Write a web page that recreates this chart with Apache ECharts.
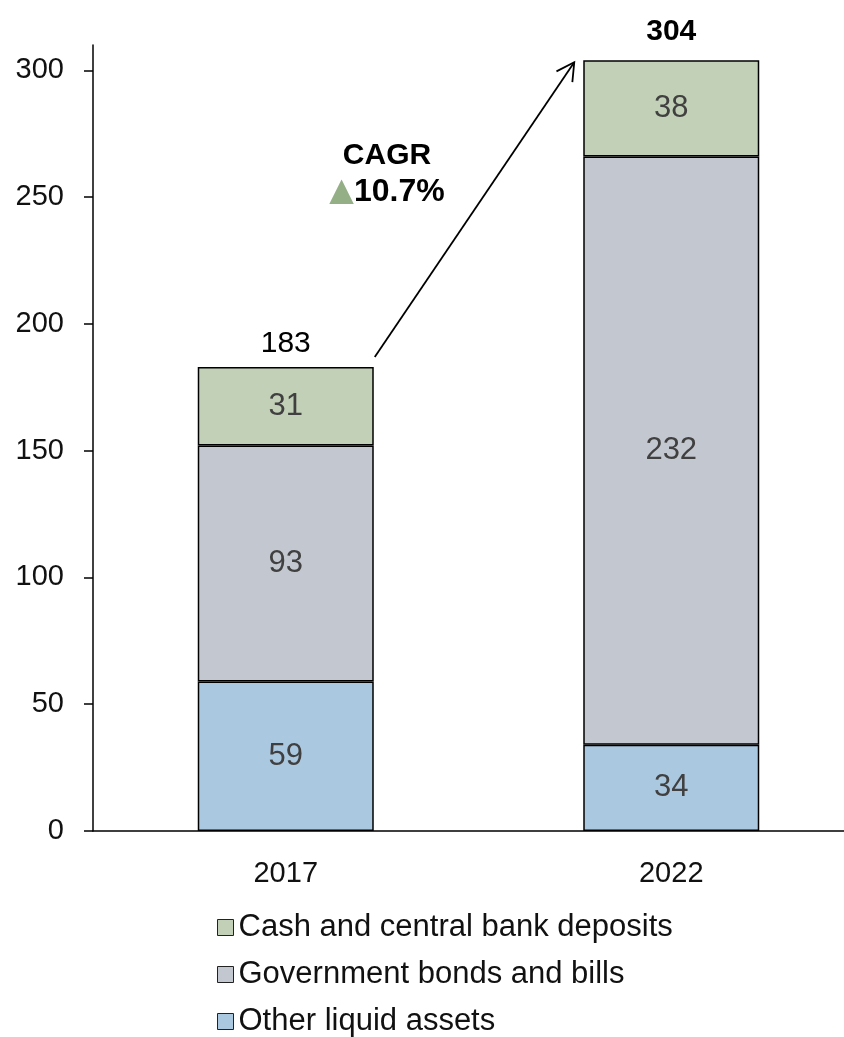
<!DOCTYPE html>
<html>
<head>
<meta charset="utf-8">
<script src="https://cdn.jsdelivr.net/npm/echarts@6/dist/echarts.min.js"></script>
<style>
  html, body { margin: 0; padding: 0; background: #fff; }
  #chart { width: 844px; height: 1037px; }
</style>
</head>
<body>
<div id="chart"></div>
<script>
// Liquid assets by type, two snapshot years
const years = ['2017', '2022'];
const cashDeposits = [31, 38];
const govBonds = [93, 232];
const otherLiquid = [59, 34];
const totals = [183, 304];
const yTicks = [0, 50, 100, 150, 200, 250, 300];
const cagrText = '10.7%';

const FONT = '"Liberation Sans", Arial, sans-serif';
const colors = {
  cash: '#c1d0b6',
  gov: '#c3c7cf',
  other: '#abc8e1',
  arrowUp: '#94ae86'
};
const BAR_W = 176;

const chart = echarts.init(document.getElementById('chart'));

function stackSeries(name, data, color) {
  return {
    name: name,
    type: 'bar',
    stack: 'total',
    data: data,
    barWidth: BAR_W,
    itemStyle: { color: color, borderColor: '#000', borderWidth: 1.5 },
    label: {
      show: true,
      position: 'inside',
      color: '#404040',
      fontSize: 31,
      fontFamily: FONT
    },
    emphasis: { disabled: true }
  };
}

const option = {
  animation: false,
  backgroundColor: '#fff',
  textStyle: { fontFamily: FONT },
  // the plot area runs past the right edge, so the second bar sits near it
  grid: { left: 93, right: -20, top: 45, bottom: 206, outerBoundsMode: 'none' },
  legend: {
    orient: 'vertical',
    left: 212,
    top: 907,
    height: 160,
    itemWidth: 16,
    itemHeight: 16,
    itemGap: 16,
    icon: 'rect',
    data: ['Cash and central bank deposits', 'Government bonds and bills', 'Other liquid assets'],
    textStyle: { fontSize: 31, color: '#111', fontFamily: FONT, padding: [0, 0, 0, 0] },
    itemStyle: { borderColor: '#222', borderWidth: 1 },
    selectedMode: false
  },
  xAxis: {
    type: 'category',
    data: years,
    axisLine: { lineStyle: { color: '#000', width: 1.5 } },
    axisTick: { show: false },
    axisLabel: { color: '#111', fontSize: 29, margin: 28, fontFamily: FONT }
  },
  yAxis: {
    type: 'value',
    min: 0,
    max: 310,
    interval: 50,
    splitLine: { show: false },
    axisLine: { show: true, lineStyle: { color: '#000', width: 1.5 } },
    axisTick: { show: true, length: 9, lineStyle: { color: '#000', width: 1.5 }, customValues: yTicks },
    axisLabel: { color: '#111', fontSize: 29, margin: 29, fontFamily: FONT, customValues: yTicks }
  },
  series: [
    stackSeries('Other liquid assets', otherLiquid, colors.other),
    stackSeries('Government bonds and bills', govBonds, colors.gov),
    stackSeries('Cash and central bank deposits', cashDeposits, colors.cash),
    {
      name: 'Total',
      type: 'bar',
      barGap: '-100%',
      barWidth: BAR_W,
      z: 0,
      silent: true,
      itemStyle: { color: 'rgba(0,0,0,0)' },
      data: totals.map((v, i) => ({
        value: v,
        label: i === totals.length - 1 ? { fontWeight: 'bold', distance: 13 } : { distance: 8 }
      })),
      label: {
        show: true,
        position: 'top',
        color: '#000',
        fontSize: 30,
        fontFamily: FONT
      }
    }
  ]
};

chart.setOption(option);

// Growth arrow between the two totals, placed from the axis scales
const first = chart.convertToPixel({ seriesIndex: 0 }, [0, totals[0]]);
const last = chart.convertToPixel({ seriesIndex: 0 }, [1, totals[1]]);
const half = BAR_W / 2;
const x1 = first[0] + half + 1, y1 = first[1] - 10;
const x2 = last[0] - half - 9, y2 = last[1] + 2;
const ang = Math.atan2(y2 - y1, x2 - x1);
const head = 20, spread = 0.5;
const hx1 = x2 - head * Math.cos(ang - spread), hy1 = y2 - head * Math.sin(ang - spread);
const hx2 = x2 - head * Math.cos(ang + spread), hy2 = y2 - head * Math.sin(ang + spread);

chart.setOption({
  graphic: [
    {
      type: 'line',
      shape: { x1: x1, y1: y1, x2: x2, y2: y2 },
      style: { stroke: '#000', lineWidth: 1.8 }
    },
    {
      type: 'polyline',
      shape: { points: [[hx1, hy1], [x2, y2], [hx2, hy2]] },
      style: { stroke: '#000', lineWidth: 1.8, fill: null }
    },
    {
      type: 'text',
      x: 387,
      y: 156,
      style: {
        text: 'CAGR',
        fontSize: 30,
        fontWeight: 'bold',
        fontFamily: FONT,
        fill: '#000',
        align: 'center',
        verticalAlign: 'middle'
      }
    },
    {
      type: 'text',
      x: 387,
      y: 192,
      style: {
        text: '{tri|▲}{v|' + cagrText + '}',
        align: 'center',
        verticalAlign: 'middle',
        rich: {
          tri: { fontSize: 32, fill: colors.arrowUp, fontFamily: '"DejaVu Sans", sans-serif' },
          v: { fontSize: 32, fontWeight: 'bold', fill: '#000', fontFamily: FONT }
        }
      }
    }
  ]
});
</script>
</body>
</html>
